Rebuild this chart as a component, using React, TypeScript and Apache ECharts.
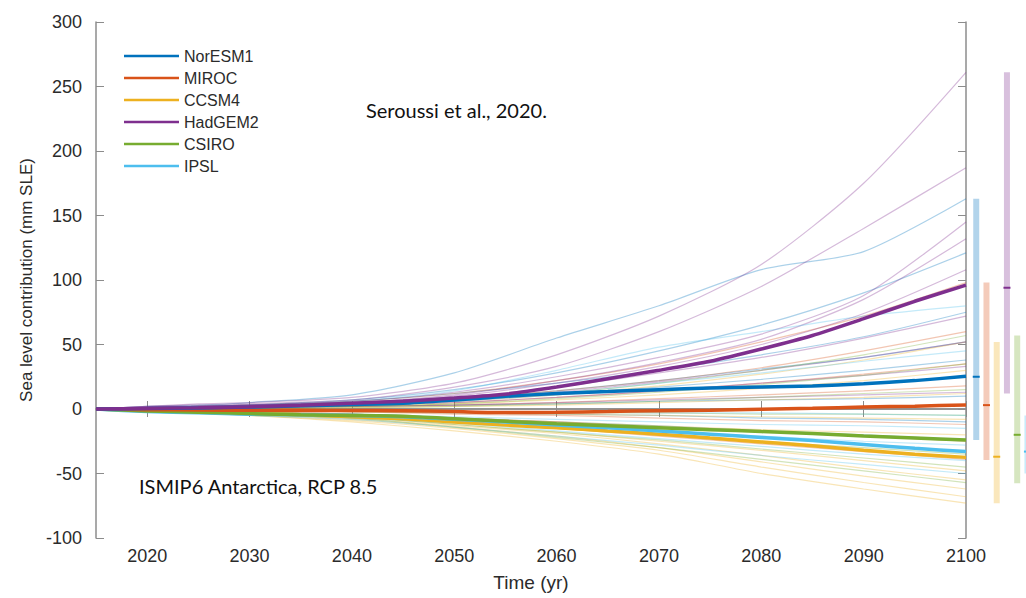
import React, { useEffect, useRef } from "react";
import * as echarts from "echarts";

// ---------- data ----------
const MODELS = ["NorESM1", "MIROC", "CCSM4", "HadGEM2", "CSIRO", "IPSL"];

const YEARS = [2015, 2020, 2025, 2030, 2035, 2040, 2045, 2050, 2055, 2060, 2065, 2070, 2075, 2080, 2085, 2090, 2095, 2100];
const NORESM1 = [0, 0.3, 0.8, 1.5, 2.5, 3.5, 4.5, 7, 9.8, 12, 13.5, 15, 16.3, 17, 17.8, 19.5, 22, 25.3];
const MIROC = [0, -0.5, -0.8, -1, -1, -1.2, -1.3, -2, -2.8, -2.5, -2, -1.3, -1, -0.2, 0.5, 1.5, 2.2, 3.1];
const CCSM4 = [0, -1, -2, -3, -4.5, -6, -7.5, -10, -12.5, -14.5, -17, -19.5, -22.5, -25.5, -28.5, -32, -35, -37.5];
const HADGEM2 = [0, 0.5, 1, 1.8, 3, 4.5, 6, 8.5, 11.5, 17, 23.5, 30, 37, 46.5, 57, 70, 83.5, 96];
const CSIRO = [0, -1.5, -2.5, -3.5, -4.5, -5, -5.6, -7.5, -9.5, -11.5, -13, -14.5, -16, -17.5, -19, -21, -22.5, -24];
const IPSL = [0, -2, -3, -4, -4.5, -5, -6, -8, -10, -12.5, -14.5, -17, -19.5, -22, -24.5, -27.5, -30.5, -33];

const RUN_YEARS = [2015, 2020, 2025, 2030, 2040, 2050, 2060, 2070, 2080, 2090, 2100];
const NORESM1_RUNS = [
  [0, 2, 3, 5, 11, 28, 55, 80, 108, 122, 163],
  [0, 1, 2, 3, 7, 15, 28, 45, 65, 90, 121],
  [0, 1, 2, 3, 6, 12, 20, 30, 42, 56, 75],
  [0, 1, 1, 2, 4, 8, 14, 22, 31, 40, 52],
  [0, 1, 1, 2, 3, 6, 11, 17, 23, 30, 38],
  [0, 0, 1, 1, 2, 3, 4, 6, 7, 8, 10],
  [0, 0, -1, -1, -2, -3, -4, -5, -7, -8, -10],
  [0, -1, -1, -2, -4, -7, -10, -13, -17, -20, -24],
];
const MIROC_RUNS = [
  [0, 1, 2, 3, 6, 12, 22, 35, 52, 72, 98],
  [0, 1, 1, 2, 4, 8, 14, 22, 32, 45, 60],
  [0, 0, 1, 1, 3, 5, 9, 14, 20, 27, 35],
  [0, 0, 0, 1, 2, 3, 5, 8, 11, 14, 18],
  [0, 0, -1, -1, -2, -4, -5, -7, -9, -10, -12],
  [0, -1, -1, -2, -4, -7, -10, -14, -17, -21, -25],
  [0, -1, -2, -3, -5, -10, -15, -21, -27, -33, -39],
];
const CCSM4_RUNS = [
  [0, 0, 1, 1, 3, 6, 11, 18, 27, 38, 52],
  [0, 0, 0, 1, 2, 4, 7, 11, 16, 22, 30],
  [0, 0, 0, 0, 1, 2, 3, 5, 7, 9, 12],
  [0, -1, -1, -1, -2, -3, -4, -5, -6, -7, -8],
  [0, -1, -1, -2, -4, -7, -10, -13, -16, -18, -20],
  [0, -1, -2, -3, -6, -12, -18, -25, -32, -40, -48],
  [0, -1, -2, -4, -7, -13, -19, -27, -36, -46, -55],
  [0, -1, -2, -4, -8, -14, -21, -30, -41, -52, -62],
  [0, -1, -3, -5, -9, -15, -23, -32, -45, -57, -68],
  [0, -1, -3, -5, -10, -17, -25, -35, -50, -62, -73],
];
const HADGEM2_RUNS = [
  [0, 2, 4, 5, 9, 20, 42, 72, 112, 175, 261],
  [0, 2, 3, 4, 7, 17, 33, 60, 95, 140, 187],
  [0, 1, 2, 3, 6, 13, 25, 40, 58, 88, 145],
  [0, 1, 2, 3, 5, 11, 22, 36, 54, 85, 132],
  [0, 1, 2, 3, 5, 10, 20, 33, 50, 74, 108],
  [0, 1, 2, 3, 5, 9, 17, 28, 40, 55, 72],
  [0, 1, 1, 2, 4, 7, 13, 21, 30, 40, 52],
  [0, 1, 1, 2, 3, 5, 9, 14, 20, 26, 33],
  [0, 0, 1, 1, 2, 3, 5, 7, 9, 11, 13],
];
const CSIRO_RUNS = [
  [0, 1, 1, 2, 3, 7, 12, 20, 30, 42, 57],
  [0, 0, 1, 1, 2, 4, 8, 13, 19, 26, 35],
  [0, 0, 0, 0, 1, 2, 4, 6, 9, 12, 15],
  [0, -1, -1, -1, -2, -2, -3, -3, -4, -4, -5],
  [0, -1, -2, -3, -5, -10, -15, -20, -25, -30, -35],
  [0, -1, -2, -3, -6, -12, -18, -24, -31, -38, -45],
  [0, -1, -2, -4, -7, -14, -22, -30, -39, -48, -57],
];
const IPSL_RUNS = [
  [0, 1, 2, 3, 6, 14, 30, 48, 60, 72, 80],
  [0, 0, 1, 1, 3, 6, 12, 20, 28, 37, 45],
  [0, -1, -1, -1, -1, -2, -2, -3, -3, -4, -5],
  [0, -1, -2, -3, -4, -6, -8, -10, -12, -13, -15],
  [0, -2, -3, -4, -6, -9, -13, -17, -21, -25, -28],
  [0, -2, -3, -4, -7, -11, -17, -23, -29, -35, -40],
  [0, -2, -3, -5, -8, -14, -21, -28, -36, -43, -50],
];

const RANGE_X = [2101, 2102, 2103, 2104, 2105, 2106];
const RANGE_LOW = [-24, -39.5, -73, 12, -57.5, -50];
const RANGE_HIGH = [163, 98, 52, 261, 57, -5];
const RANGE_MEDIAN = [25, 3, -37, 94, -20, -33];

const X_TICKS = [2020, 2030, 2040, 2050, 2060, 2070, 2080, 2090, 2100];

// ---------- styles ----------
const COLORS = ["#0072BD", "#D95319", "#EDB120", "#7E2F8E", "#77AC30", "#4DBEEE"];
const MAIN = [NORESM1, MIROC, CCSM4, HADGEM2, CSIRO, IPSL];
const RUNS = [NORESM1_RUNS, MIROC_RUNS, CCSM4_RUNS, HADGEM2_RUNS, CSIRO_RUNS, IPSL_RUNS];
const DRAW_ORDER = [2, 5, 4, 1, 0, 3];
const AXIS_COLOR = "#8c8c8c";
const TEXT_COLOR = "#2b2b2b";
const SANS = "'Liberation Sans', Arial, Helvetica, sans-serif";

function hexA(hex: string, a: number) {
  const n = parseInt(hex.slice(1), 16);
  return `rgba(${(n >> 16) & 255},${(n >> 8) & 255},${n & 255},${a})`;
}

export default function App() {
  const ref = useRef<HTMLDivElement>(null);
  useEffect(() => {
    if (!ref.current) return;
    const chart = echarts.init(ref.current, null, { renderer: "svg" });

    const series: any[] = [];
    RUNS.forEach((runs, m) => {
      runs.forEach((run, r) => {
        series.push({
          type: "line",
          name: `${MODELS[m]} run ${r + 1}`,
          xAxisIndex: 0,
          yAxisIndex: 0,
          data: RUN_YEARS.map((y, i) => [y, run[i]]),
          showSymbol: false,
          smooth: 0.25,
          silent: true,
          z: 1,
          lineStyle: { color: hexA(COLORS[m], 0.33), width: 1.2 },
          itemStyle: { color: hexA(COLORS[m], 0.33) },
        });
      });
    });
    DRAW_ORDER.forEach((m, k) => {
      series.push({
        type: "line",
        name: MODELS[m],
        xAxisIndex: 0,
        yAxisIndex: 0,
        data: YEARS.map((y, i) => [y, MAIN[m][i]]),
        showSymbol: false,
        smooth: 0.2,
        silent: true,
        z: 3 + k,
        color: COLORS[m],
        lineStyle: { color: COLORS[m], width: 3.5 },
        itemStyle: { color: COLORS[m] },
      });
    });
    series.push({
      type: "custom",
      name: "ranges",
      xAxisIndex: 2,
      yAxisIndex: 2,
      silent: true,
      clip: false,
      data: RANGE_X.map((x, i) => [x, RANGE_LOW[i], RANGE_HIGH[i], RANGE_MEDIAN[i]]),
      renderItem: (params: any, api: any) => {
        const x = api.value(0);
        const lo = api.coord([x, api.value(1)]);
        const hi = api.coord([x, api.value(2)]);
        const md = api.coord([x, api.value(3)]);
        const c = COLORS[params.dataIndex];
        return {
          type: "group",
          children: [
            {
              type: "rect",
              shape: { x: lo[0] - 3, y: hi[1], width: 6, height: lo[1] - hi[1] },
              style: { fill: hexA(c, 0.3) },
            },
            {
              type: "line",
              shape: { x1: md[0] - 3.5, y1: md[1], x2: md[0] + 3.5, y2: md[1] },
              style: { stroke: c, lineWidth: 2 },
            },
          ],
        };
      },
    });

    const tickStyle = { show: true, inside: true, length: 8, lineStyle: { color: AXIS_COLOR, width: 1 } };
    const yearLabel = (v: number) => String(v);

    chart.setOption({
      animation: false,
      backgroundColor: "#ffffff",
      grid: [
        { left: 96, right: 60, top: 22, bottom: 60, containLabel: false },
        { left: 966, right: 0, top: 22, bottom: 60, containLabel: false },
      ],
      legend: {
        data: MODELS,
        orient: "vertical",
        left: 119,
        top: 43,
        icon: "rect",
        itemWidth: 55,
        itemHeight: 2.5,
        itemGap: 6,
        selectedMode: false,
        textStyle: { fontSize: 16, lineHeight: 16, color: TEXT_COLOR, fontFamily: SANS },
      },
      xAxis: [
        {
          type: "value",
          gridIndex: 0,
          min: 2015,
          max: 2100,
          position: "bottom",
          name: "Time (yr)",
          nameLocation: "middle",
          nameGap: 35,
          nameTextStyle: { fontSize: 19, color: TEXT_COLOR, fontFamily: SANS },
          axisLine: { show: true, lineStyle: { color: AXIS_COLOR, width: 1.5 } },
          axisTick: { ...tickStyle, customValues: X_TICKS },
          axisLabel: { customValues: X_TICKS, formatter: yearLabel, fontSize: 18, color: TEXT_COLOR, fontFamily: SANS, margin: 9 },
          splitLine: { show: false },
        },
        {
          type: "value",
          gridIndex: 0,
          min: 2015,
          max: 2100,
          position: "top",
          axisLine: { show: true, lineStyle: { color: AXIS_COLOR, width: 1.5 } },
          axisTick: { ...tickStyle, customValues: X_TICKS },
          axisLabel: { show: false },
          splitLine: { show: false },
        },
        { type: "value", gridIndex: 1, min: 2100, max: 2105.859375, show: false },
      ],
      yAxis: [
        {
          type: "value",
          gridIndex: 0,
          min: -100,
          max: 300,
          interval: 50,
          position: "left",
          name: "Sea level contribution (mm SLE)",
          nameLocation: "middle",
          nameGap: 51,
          nameTextStyle: { fontSize: 17, color: TEXT_COLOR, fontFamily: SANS },
          axisLine: { show: true, lineStyle: { color: AXIS_COLOR, width: 1.5 } },
          axisTick: tickStyle,
          axisLabel: { fontSize: 18, color: TEXT_COLOR, fontFamily: SANS, margin: 14 },
          splitLine: { show: false },
        },
        {
          type: "value",
          gridIndex: 0,
          min: -100,
          max: 300,
          interval: 50,
          position: "right",
          axisLine: { show: true, lineStyle: { color: AXIS_COLOR, width: 1.5 } },
          axisTick: tickStyle,
          axisLabel: { show: false },
          splitLine: { show: false },
        },
        { type: "value", gridIndex: 1, min: -100, max: 300, show: false },
      ],
      graphic: [
        {
          type: "text",
          left: 366,
          top: 100,
          z: 20,
          style: { text: "Seroussi et al., 2020.", fontSize: 20, fontFamily: "Lato, 'Open Sans', sans-serif", fill: "#111111" },
        },
        {
          type: "text",
          left: 139,
          top: 476,
          z: 20,
          style: { text: "ISMIP6 Antarctica, RCP 8.5", fontSize: 20, fontFamily: "Lato, 'Open Sans', sans-serif", fill: "#111111" },
        },
      ],
      series,
    });
    return () => chart.dispose();
  }, []);
  return <div ref={ref} style={{ position: "fixed", left: 0, top: 0, width: 1026, height: 598 }} />;
}
